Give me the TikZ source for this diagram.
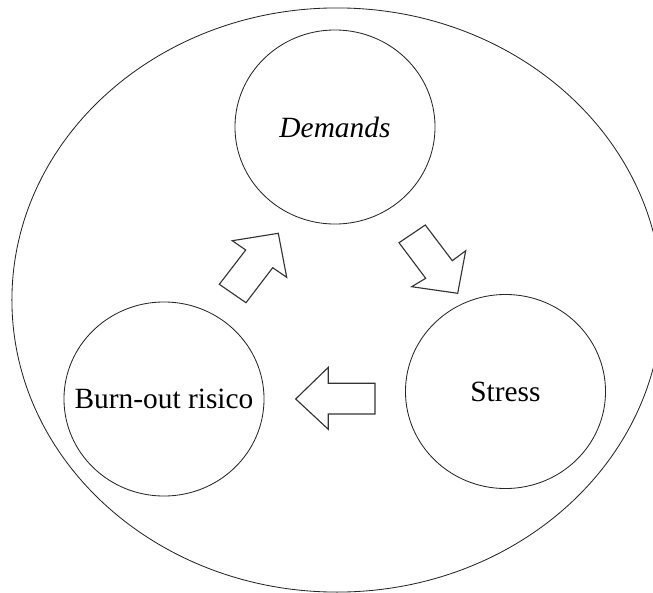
\documentclass[tikz,border=0pt]{standalone}
\usepackage{fontspec}
\setmainfont{Liberation Serif}
\usepackage{tikz}
\usetikzlibrary{shapes.geometric, positioning}

\begin{document}
\begin{tikzpicture}[
        x=0.025cm, y=-0.025cm,
        font=\fontsize{20.9}{25}\selectfont,
        every node/.style={align=center},
        frame/.style={
            ellipse, draw=black!85, line width=0.6pt,
            minimum width=16.25cm, minimum height=14.6cm
        },
        factor/.style={
            ellipse, draw=black!85, line width=0.6pt,
            inner sep=0pt,
            minimum width=5cm, minimum height=4.85cm
        },
        blockarr/.style={
            draw=black!80, line width=0.8pt, fill=white, line join=miter
        }
    ]
    \useasboundingbox (0,0) rectangle (653,593);
    \node[frame] (cycle) at (337,300) {};
    \node[factor] (demands) at (335,127) {\makebox[0pt]{\itshape Demands}};
    \node[factor] (stress) at (505.5,391.5) {\makebox[0pt]{Stress}};
    \node[factor] (burnout) at (164,399) {\makebox[0pt]{Burn-out risico}};
    % block arrows
    \draw[blockarr] (219.3,284.3) -- (245.7,250) -- (232.3,240.7) -- (278.3,233.3)
        -- (286.7,277.3) -- (272.7,267.7) -- (246,302.7) -- cycle;
    \draw[blockarr] (425.3,225) -- (452.3,260.7) -- (465.7,250.7) -- (457.7,293.3)
        -- (411.7,286.7) -- (425.7,278.3) -- (399,242.7) -- cycle;
    \draw[blockarr] (295.7,399) -- (328.3,367.3) -- (328.3,383.3) -- (375,383.3)
        -- (375,414) -- (328.3,414) -- (328.3,429.3) -- cycle;
\end{tikzpicture}
\end{document}
